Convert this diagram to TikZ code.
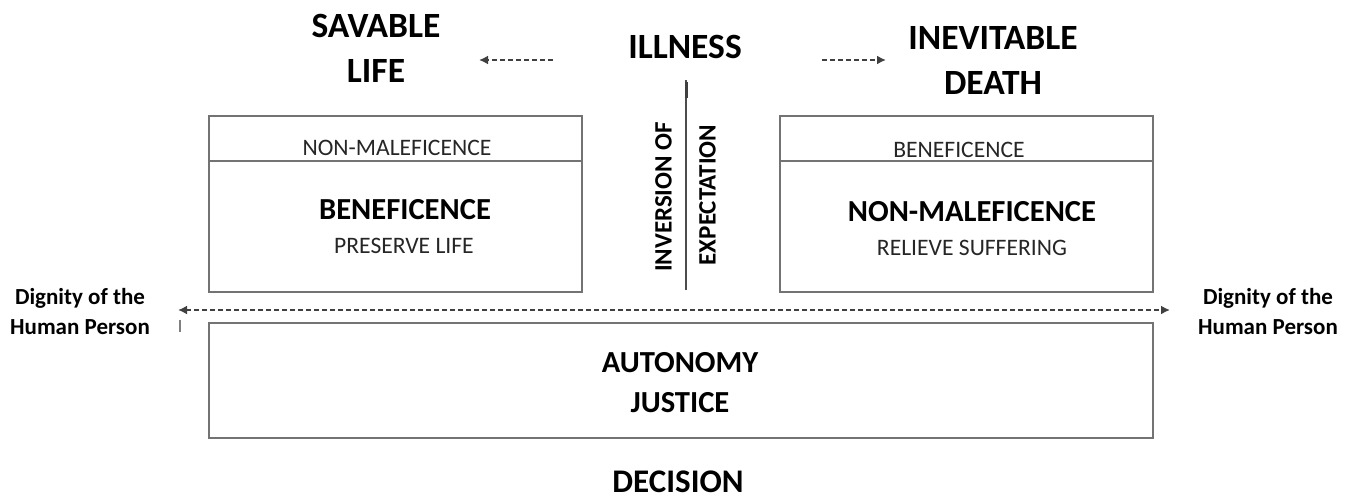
\documentclass[tikz,border=0pt]{standalone}
\usepackage{fontspec}
\setmainfont{Carlito}
\usetikzlibrary{arrows.meta}
\begin{document}
\begin{tikzpicture}[x=1pt,y=-1pt,
  big/.style={font=\fontsize{35.5}{45}\selectfont\bfseries, align=center, inner sep=0pt},
  mid/.style={font=\fontsize{30.6}{36}\selectfont\bfseries, inner sep=0pt},
  small/.style={font=\fontsize{23.6}{28}\selectfont, text=black!85, inner sep=0pt},
  side/.style={font=\fontsize{23}{30}\selectfont\bfseries, align=center, inner sep=0pt},
  vert/.style={font=\fontsize{25}{30}\selectfont\bfseries, rotate=90, inner sep=0pt},
  panel/.style={draw=black!55, line width=1.8pt},
  darrow/.style={draw=black!75, line width=2.6pt, dash pattern=on 5pt off 3pt, -{Latex[length=9pt,width=9pt]}}]
\useasboundingbox (0,0) rectangle (1354,501);
% top labels
\node[big] (sav) at (376,48) {SAVABLE\\LIFE};
\node[big] (ill) at (685,47) {ILLNESS};
\node[big] (ine) at (993,60.5) {INEVITABLE\\DEATH};
\coordinate (la) at (553,60);
\coordinate (lb) at (479,60);
\coordinate (ra) at (822,60);
\coordinate (rb) at (886,60);
\draw[darrow] (la) -- (lb);
\draw[darrow] (ra) -- (rb);
% left panel
\draw[panel] (209,116) rectangle (582,292);
\draw[panel] (209,161) -- (582,161);
\node[small] (lt) at (397,147.5) {NON-MALEFICENCE};
\node[mid] (lb1) at (405,210) {BENEFICENCE};
\node[small] (lb2) at (404,245.5) {PRESERVE LIFE};
% right panel
\draw[panel] (780,116) rectangle (1153,292);
\draw[panel] (780,161) -- (1153,161);
\node[small] (rt) at (959,149.5) {BENEFICENCE};
\node[mid] (rb1) at (972,212) {NON-MALEFICENCE};
\node[small] (rb2) at (972,247.5) {RELIEVE SUFFERING};
% vertical line
\coordinate (vt) at (686,80);
\coordinate (vb) at (686,290);
\draw[black!70, line width=1.8pt] (vt) -- (vb);
\draw[black!75, line width=3pt] (686,82) -- (686,98);
\node[vert] (inv) at (663.5,197) {INVERSION OF};
\node[vert] (exp) at (707.5,195) {EXPECTATION};
% dignity line
\coordinate (dl) at (178,310);
\coordinate (dr) at (1170,310);
\draw[draw=black!75, line width=2.6pt, dash pattern=on 5pt off 3pt, {Latex[length=9pt,width=9pt]}-{Latex[length=9pt,width=9pt]}] (dl) -- (dr);
\draw[black!50, line width=1.4pt] (180,320) -- (180,332);
\node[side] (dgl) at (80,312) {Dignity of the\\Human Person};
\node[side] (dgr) at (1268,312) {Dignity of the\\Human Person};
% bottom panel
\draw[panel] (209,323) rectangle (1153,438);
\node[mid] (aut) at (680,363) {AUTONOMY};
\node[mid] (jus) at (680,403) {JUSTICE};
\node[font=\fontsize{33}{40}\selectfont\bfseries, inner sep=0pt] (dec) at (678,482) {DECISION};
\end{tikzpicture}
\end{document}
